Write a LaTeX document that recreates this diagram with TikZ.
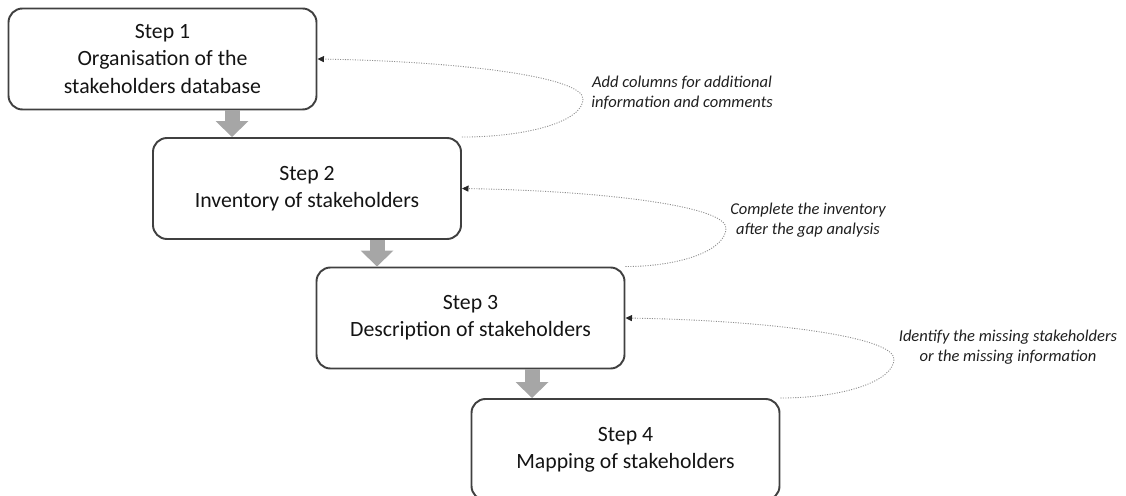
\documentclass[tikz,border=0pt]{standalone}
\usepackage{fontspec}
\setmainfont{Carlito}
\definecolor{stepgray}{RGB}{64,64,64}
\definecolor{arrowgray}{RGB}{166,166,166}
\definecolor{loopgray}{RGB}{140,140,140}
\usetikzlibrary{arrows.meta,positioning,calc}

\begin{document}
\begin{tikzpicture}[
    stepbox/.style={draw=stepgray, line width=1.1pt, rounded corners=0.28cm, minimum width=6.16cm, minimum height=2.02cm, inner sep=0pt, align=center, text=black!92, font=\fontsize{12.4}{15.4}\selectfont},
    flowarrow/.style={draw=arrowgray, line width=0.3cm, -{Triangle[width=0.64cm,length=0.32cm]}},
    loopline/.style={draw=loopgray, line width=0.5pt, dash pattern=on 0.6pt off 0.8pt, -{Triangle[length=1.3mm,width=1.2mm,color=black!85]}},
    note/.style={align=center, text=black!88, font=\fontsize{9.4}{11.4}\selectfont\itshape}]
    \useasboundingbox (0,0) rectangle (22.52,9.9);

    \node[stepbox] (s1) at (3.25,8.72) {Step 1\\Organisation of the\\stakeholders database};
    \node[stepbox] (s2) at (6.14,6.13) {Step 2\\Inventory of stakeholders};
    \node[stepbox] (s3) at (9.41,3.54) {Step 3\\Description of stakeholders};
    \node[stepbox] (s4) at (12.51,0.91) {Step 4\\Mapping of stakeholders};

    \coordinate (a1) at (4.64,0);
    \coordinate (a2) at (7.54,0);
    \coordinate (a3) at (10.64,0);
    \draw[flowarrow] (a1 |- s1.south) -- (a1 |- s2.north);
    \draw[flowarrow] (a2 |- s2.south) -- (a2 |- s3.north);
    \draw[flowarrow] (a3 |- s3.south) -- (a3 |- s4.north);

    \coordinate (b1) at (11.66,7.92);
    \coordinate (b2) at (14.52,5.34);
    \coordinate (b3) at (17.88,2.72);
    \draw[loopline] (s2.north east) .. controls +(1.34,0) and +(0,-0.44) .. (b1) .. controls +(0,0.44) and +(2.9,-0.05) .. (s1.east);
    \draw[loopline] (s3.north east) .. controls +(1.12,0) and +(0,-0.44) .. (b2) .. controls +(0,0.43) and +(2.9,-0.05) .. (s2.east);
    \draw[loopline] (s4.north east) .. controls +(1.26,0) and +(0,-0.44) .. (b3) .. controls +(0,0.44) and +(2.93,-0.05) .. (s3.east);

    \node[note] (n1) at (13.64,8.04) {Add columns for additional\\information and comments};
    \node[note] (n2) at (16.16,5.5) {Complete the inventory\\after the gap analysis};
    \node[note] (n3) at (20.16,2.96) {Identify the missing stakeholders\\or the missing information};
\end{tikzpicture}
\end{document}
